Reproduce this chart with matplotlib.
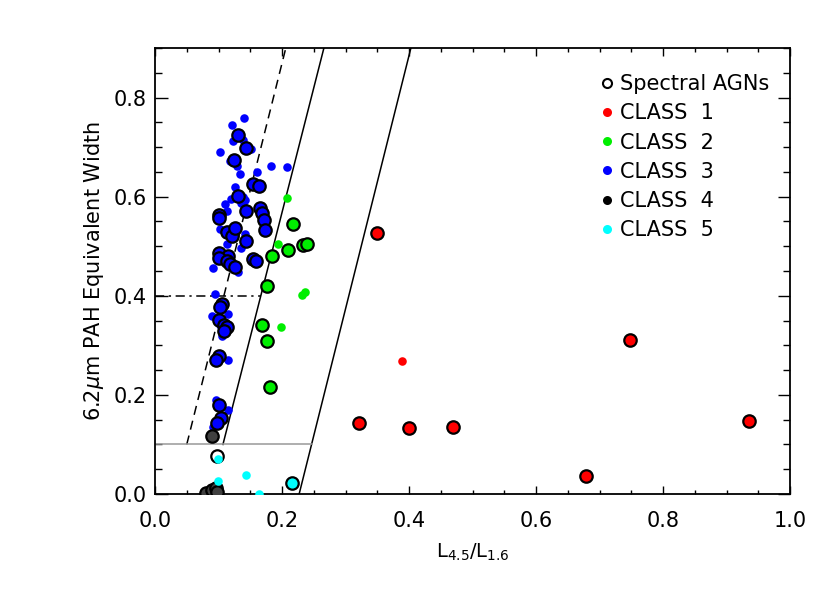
import numpy as np
import matplotlib
matplotlib.use('Agg')
import matplotlib.pyplot as plt
from matplotlib.lines import Line2D
from matplotlib.ticker import MultipleLocator

# class 3 (blue): plain sources and spectral AGNs
c3_x = [0.140, 0.122, 0.139, 0.123, 0.151, 0.102, 0.118, 0.129, 0.182, 0.208, 0.161, 0.134,
        0.126, 0.139, 0.142, 0.135, 0.120, 0.110, 0.114, 0.102, 0.129, 0.142, 0.113, 0.135,
        0.092, 0.131, 0.094, 0.089, 0.115, 0.102, 0.105, 0.115, 0.096, 0.115, 0.092]
c3_y = [0.759, 0.744, 0.715, 0.712, 0.696, 0.691, 0.672, 0.662, 0.662, 0.660, 0.649, 0.645,
        0.620, 0.599, 0.594, 0.587, 0.595, 0.585, 0.572, 0.535, 0.536, 0.525, 0.504, 0.496,
        0.456, 0.447, 0.403, 0.359, 0.363, 0.342, 0.319, 0.271, 0.190, 0.170, 0.136]
c3_agn_x = [0.130, 0.143, 0.125, 0.155, 0.164, 0.131, 0.144, 0.165, 0.168, 0.171, 0.174, 0.100,
            0.101, 0.114, 0.122, 0.126, 0.144, 0.101, 0.115, 0.100, 0.113, 0.118, 0.126, 0.155,
            0.159, 0.105, 0.102, 0.100, 0.108, 0.113, 0.109, 0.100, 0.096, 0.101, 0.104, 0.097]
c3_agn_y = [0.724, 0.698, 0.673, 0.626, 0.622, 0.602, 0.571, 0.577, 0.567, 0.553, 0.533, 0.563,
            0.556, 0.528, 0.521, 0.536, 0.510, 0.486, 0.481, 0.477, 0.470, 0.464, 0.458, 0.474,
            0.470, 0.384, 0.377, 0.352, 0.342, 0.337, 0.329, 0.278, 0.270, 0.180, 0.153, 0.144]

# class 2 (green)
c2_x = [0.208, 0.193, 0.236, 0.231, 0.198]
c2_y = [0.597, 0.504, 0.408, 0.401, 0.337]
c2_agn_x = [0.218, 0.209, 0.233, 0.239, 0.185, 0.177, 0.169, 0.177, 0.181]
c2_agn_y = [0.545, 0.493, 0.503, 0.504, 0.481, 0.419, 0.341, 0.309, 0.216]

# class 1 (red)
c1_x = [0.389]
c1_y = [0.269]
c1_agn_x = [0.349, 0.321, 0.400, 0.470, 0.679, 0.748, 0.935]
c1_agn_y = [0.527, 0.143, 0.134, 0.136, 0.036, 0.310, 0.148]

# class 4 (black) - only spectral AGNs
c4_agn_x = [0.089, 0.081, 0.089, 0.096, 0.097]
c4_agn_y = [0.118, 0.003, 0.008, 0.012, 0.005]

# class 5 (cyan)
c5_x = [0.099, 0.099, 0.144, 0.164]
c5_y = [0.070, 0.027, 0.038, 0.000]
c5_agn_x = [0.215]
c5_agn_y = [0.023]

# spectral AGN without class
agn_x = [0.097]
agn_y = [0.077]

# dividing lines (x at bottom, x at top), (y bottom, y top)
dash_line = ([0.050, 0.206], [0.10, 0.90])
solid1 = ([0.107, 0.266], [0.10, 0.90])
solid2 = ([0.227, 0.403], [0.00, 0.90])

fig = plt.figure(figsize=(8.3, 5.93), dpi=100)
ax = fig.add_axes([155 / 830, 1 - 494 / 593, 635 / 830, 446 / 593])

ax.plot(*dash_line, color='black', lw=1.1, ls=(0, (6, 4)))
ax.plot(*solid1, color='black', lw=1.1)
ax.plot(*solid2, color='black', lw=1.1)
ax.plot([0, 0.167], [0.4, 0.4], color='black', lw=1.1, ls=(0, (6, 3, 1.5, 3)))
ax.plot([0, 0.247], [0.1, 0.1], color='#999999', lw=1.1)

small = 38
big = 80
ax.scatter(c3_x, c3_y, s=small, color='#0000ff', lw=0, zorder=3)
ax.scatter(c3_agn_x, c3_agn_y, s=big, color='#0000ff', edgecolor='black', lw=1.6, zorder=3)
ax.scatter(c2_x, c2_y, s=small, color='#00ee00', lw=0, zorder=3)
ax.scatter(c2_agn_x, c2_agn_y, s=big, color='#00ee00', edgecolor='black', lw=1.6, zorder=3)
ax.scatter(c1_x, c1_y, s=small, color='#ff0000', lw=0, zorder=3)
ax.scatter(c1_agn_x, c1_agn_y, s=big, color='#ff0000', edgecolor='black', lw=1.6, zorder=3)
ax.scatter(c4_agn_x, c4_agn_y, s=big, color='#404040', edgecolor='black', lw=1.6, zorder=3)
ax.scatter(agn_x, agn_y, s=big, color='white', edgecolor='black', lw=1.6, zorder=3)
ax.scatter(c5_x, c5_y, s=small, color='#00ffff', lw=0, zorder=4)
ax.scatter(c5_agn_x, c5_agn_y, s=big, color='#00ffff', edgecolor='black', lw=1.6, zorder=3)

ax.set_xlim(0, 1.0)
ax.set_ylim(0, 0.9)
ax.xaxis.set_major_locator(MultipleLocator(0.2))
ax.xaxis.set_minor_locator(MultipleLocator(0.05))
ax.yaxis.set_major_locator(MultipleLocator(0.2))
ax.yaxis.set_minor_locator(MultipleLocator(0.05))
ax.xaxis.set_major_formatter(plt.FormatStrFormatter('%.1f'))
ax.yaxis.set_major_formatter(plt.FormatStrFormatter('%.1f'))
ax.tick_params(which='both', direction='in', top=True, right=True, labelsize=15, width=1)
ax.tick_params(axis='x', which='major', length=6, pad=12)
ax.tick_params(axis='x', which='minor', length=3)
ax.tick_params(axis='y', which='major', length=9, pad=6)
ax.tick_params(axis='y', which='minor', length=5)
for sp in ax.spines.values():
    sp.set_linewidth(1.3)

ax.set_xlabel(r'L$_{\mathregular{4.5}}$/L$_{\mathregular{1.6}}$', fontsize=14, labelpad=8)
ax.set_ylabel(r'6.2$\mu$m PAH Equivalent Width', fontsize=15, labelpad=5)

handles = [
    Line2D([], [], ls='none', marker='o', ms=6.5, mfc='white', mec='black', mew=1.5),
    Line2D([], [], ls='none', marker='o', ms=6.5, mfc='#ff0000', mec='none'),
    Line2D([], [], ls='none', marker='o', ms=6.5, mfc='#00ee00', mec='none'),
    Line2D([], [], ls='none', marker='o', ms=6.5, mfc='#0000ff', mec='none'),
    Line2D([], [], ls='none', marker='o', ms=6.5, mfc='black', mec='none'),
    Line2D([], [], ls='none', marker='o', ms=6.5, mfc='#00ffff', mec='none'),
]
labels = ['Spectral AGNs', 'CLASS  1', 'CLASS  2', 'CLASS  3', 'CLASS  4', 'CLASS  5']
ax.legend(handles, labels, loc='upper right', frameon=False, fontsize=15,
          handlelength=0.6, handletextpad=0.3, labelspacing=0.44,
          borderaxespad=0.0, bbox_to_anchor=(0.98, 0.96))

fig.savefig('out.png', dpi=100)
